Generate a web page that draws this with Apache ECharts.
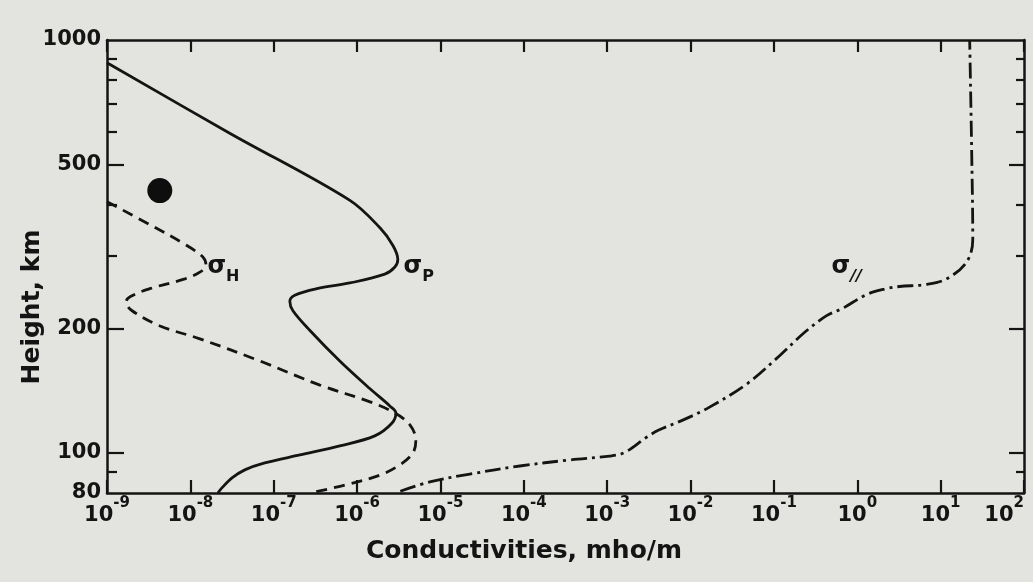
<!DOCTYPE html>
<html><head><meta charset="utf-8">
<script src="https://cdn.jsdelivr.net/npm/echarts@6/dist/echarts.min.js"></script>
<style>html,body{margin:0;padding:0;background:#e3e3df}#c{width:1033px;height:582px}</style>
</head><body><div id="c"></div>
<script>
// ---- tick definitions ----
const xDecades = [1e-9,1e-8,1e-7,1e-6,1e-5,1e-4,1e-3,1e-2,1e-1,1e0,1e1,1e2];
const yLabelValues = [80,100,200,500,1000];
const yMajorTicks = [100,200,500];
const yMinorTicks = [90,300,400,600,700,800,900];

// ---- sigma_P (Pedersen), solid ----
const sigmaP_cond = [1e-9,3.0e-8,8.2e-7,1.88e-6,2.69e-6,3.08e-6,2.84e-6,2.15e-6,8.2e-7,3.3e-7,1.79e-7,1.56e-7,1.70e-7,2.72e-7,6.2e-7,1.43e-6,2.47e-6,2.92e-6,2.61e-6,1.63e-6,6.2e-7,2.06e-7,7.8e-8,4.5e-8,3.16e-8,2.39e-8,2.14e-8];
const sigmaP_height = [881,594,409,351,318,294,282,271,258,250,241,233,221,198,167,143,130,125,118,110,104,98.9,94.6,91.0,87.0,82.3,80];

// ---- sigma_H (Hall), dashed ----
const sigmaH_cond = [1e-9,3.28e-9,8.6e-9,1.42e-8,1.54e-8,1.30e-8,8.6e-9,3.28e-9,1.89e-9,1.69e-9,2.0e-9,4.33e-9,1.30e-8,6.84e-8,3.58e-7,1.43e-6,2.84e-6,4.30e-6,5.07e-6,4.67e-6,3.26e-6,1.88e-6,7.15e-7,2.72e-7];
const sigmaH_height = [406,357,320,298,285,274,264,250,239,232,221,203,189,167,146,133,125,117,107.5,100,93.6,88.4,83.6,80];

// ---- sigma_parallel, dash-dot ----
const sigmaPar_cond = [3.3e-6,7.46e-6,2.25e-5,8.96e-5,3.56e-4,1.07e-3,1.63e-3,2.99e-3,4.16e-3,8.06e-3,1.61e-2,4.85e-2,0.117,0.234,0.429,0.668,1.30,2.25,3.22,6.79,11.8,20.5,24.3,23.6,22.3];
const sigmaPar_height = [80.8,85.1,88.9,93.0,96.2,98.3,100.3,109.3,113.6,120.1,128.4,147.5,172,196,215,224,242,250,253,256,264,290,329,530,1000];

// ---- blot on the page ----
const blot_cond = [4.3e-9];
const blot_height = [432];

// ---- curve labels ----
const curveLabels = [
  {name:'σH', cond:1.6e-8, height:277, sub:'H'},
  {name:'σP', cond:3.6e-6, height:277, sub:'P'},
  {name:'σ∥', cond:0.49, height:277, sub:'//'}
];

const zip = (a,b) => a.map((v,i)=>[v,b[i]]);
const INK = '#141414';
const FONT = 'DejaVu Sans';

function labelMark(l){
  return {
    symbol:'circle', symbolSize:0, silent:true,
    data:[{coord:[l.cond,l.height]}],
    label:{show:true, position:'right', distance:0,
      formatter:'{s|σ}{sub|'+l.sub+'}',
      rich:{
        s:{fontFamily:FONT,fontSize:24,fontWeight:'bold',color:INK,lineHeight:30,verticalAlign:'top'},
        sub:{fontFamily:FONT,fontSize:16,fontWeight:'bold',color:INK,lineHeight:30,verticalAlign:'bottom',fontStyle:l.sub==='//'?'italic':'normal'}
      }}
  };
}

const yAxisBase = (pos, ticks, len, showLine, labels) => ({
  type:'log', logBase:10, min:80, max:1000, position:pos, gridIndex:0,
  axisLine:{show:showLine, onZero:false, lineStyle:{color:INK,width:2.5}},
  axisTick:{show:true, inside:true, length:len, customValues:ticks, lineStyle:{color:INK,width:2.2}},
  axisLabel:labels ? {show:true, customValues:yLabelValues, margin:6, color:INK, fontFamily:FONT, fontWeight:'bold', fontSize:21, formatter:v=>String(Math.round(v))} : {show:false},
  splitLine:{show:false}, minorTick:{show:false}
});

const chart = echarts.init(document.getElementById('c'), null, {renderer:'canvas'});
chart.setOption({
  backgroundColor:'#e3e3df',
  animation:false,
  grid:{left:107,right:9,top:40,bottom:89,outerBoundsMode:'none',containLabel:false},
  xAxis:[
    {type:'log', logBase:10, min:1e-9, max:100, position:'bottom',
     axisLine:{onZero:false, lineStyle:{color:INK,width:2.5}},
     axisTick:{inside:true, length:13, customValues:xDecades, lineStyle:{color:INK,width:2.2}},
     axisLabel:{customValues:xDecades, margin:3, color:INK, hideOverlap:false, alignMaxLabel:'right',
       formatter:v=>'{b|10}{e|'+Math.round(Math.log10(v))+'}',
       rich:{b:{fontFamily:FONT,fontSize:21,fontWeight:'bold',color:INK,lineHeight:30,verticalAlign:'bottom'},
             e:{fontFamily:FONT,fontSize:15,fontWeight:'bold',color:INK,lineHeight:30,verticalAlign:'top'}}},
     splitLine:{show:false}},
    {type:'log', logBase:10, min:1e-9, max:100, position:'top',
     axisLine:{onZero:false, lineStyle:{color:INK,width:2.5}},
     axisTick:{inside:true, length:12, customValues:xDecades, lineStyle:{color:INK,width:2.2}},
     axisLabel:{show:false}, splitLine:{show:false}}
  ],
  yAxis:[
    yAxisBase('left', yMajorTicks, 17, true, true),
    yAxisBase('left', yMinorTicks, 10, false, false),
    yAxisBase('right', yMajorTicks, 15, true, false),
    yAxisBase('right', yMinorTicks, 8, false, false)
  ],
  graphic:[
    {type:'text', x:524, y:551, style:{text:'Conductivities, mho/m', font:'bold 25px "DejaVu Sans"', fill:INK, textAlign:'center', textVerticalAlign:'middle'}},
    {type:'text', x:32, y:307, rotation:Math.PI/2, style:{text:'Height, km', font:'bold 25px "DejaVu Sans"', fill:INK, textAlign:'center', textVerticalAlign:'middle'}}
  ],
  series:[
    {name:'σP', type:'line', xAxisIndex:0, yAxisIndex:0, data:zip(sigmaP_cond,sigmaP_height),
     smooth:0.35, symbol:'none', lineStyle:{color:INK,width:2.8,type:'solid'}, markPoint:labelMark(curveLabels[1])},
    {name:'σH', type:'line', xAxisIndex:0, yAxisIndex:0, data:zip(sigmaH_cond,sigmaH_height),
     smooth:0.35, symbol:'none', lineStyle:{color:INK,width:2.8,type:[11,7]}, markPoint:labelMark(curveLabels[0])},
    {name:'σ∥', type:'line', xAxisIndex:0, yAxisIndex:0, data:zip(sigmaPar_cond,sigmaPar_height),
     smooth:0.35, symbol:'none', lineStyle:{color:INK,width:2.8,type:[16,5,3,5]}, markPoint:labelMark(curveLabels[2])},
    {name:'blot', type:'scatter', xAxisIndex:0, yAxisIndex:0, data:zip(blot_cond,blot_height),
     symbol:'circle', symbolSize:25, itemStyle:{color:'#0e0e0e',opacity:1}, silent:true}
  ]
});
</script></body></html>
